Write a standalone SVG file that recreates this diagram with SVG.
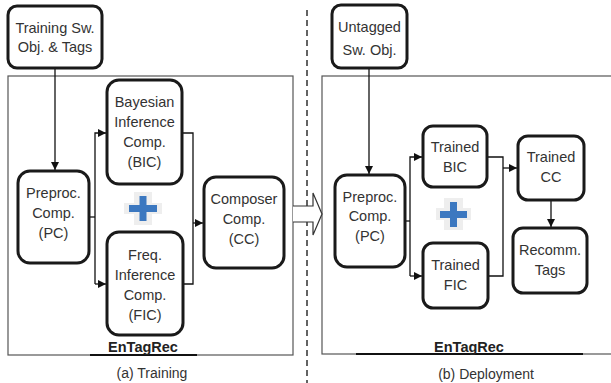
<svg xmlns="http://www.w3.org/2000/svg" width="611" height="383" viewBox="0 0 611 383">
<style>
.node{fill:#fff;stroke:#1a1a1a;stroke-width:3}
.t{font-family:"Liberation Sans",Arial,sans-serif;font-size:14.5px;fill:#333;text-anchor:middle}
.b{font-family:"Liberation Sans",Arial,sans-serif;font-size:14.5px;font-weight:bold;fill:#222;text-anchor:middle}
.c{font-family:"Liberation Sans",Arial,sans-serif;font-size:14px;fill:#333;text-anchor:middle}
.ln{fill:none;stroke:#111;stroke-width:1.3}
.panel{fill:#fff;stroke:#555;stroke-width:1.2}
</style>
<defs>
<marker id="ah" viewBox="0 0 10 10" refX="10" refY="5" markerWidth="8" markerHeight="8" markerUnits="userSpaceOnUse" orient="auto">
<path d="M0,0 L10,5 L0,10 z" fill="#111"/>
</marker>
</defs>
<rect width="611" height="383" fill="#fff"/>

<g id="panels">
<rect class="panel" x="8" y="76" width="285" height="279"/>
<line x1="90" y1="355" x2="197" y2="355" stroke="#111" stroke-width="2.2"/>
<text class="b" x="143" y="352">EnTagRec</text>
<text class="c" x="152" y="378">(a) Training</text>
<rect class="panel" x="322" y="76" width="300" height="278"/>
<line x1="356" y1="354" x2="583" y2="354" stroke="#111" stroke-width="2.2"/>
<text class="b" x="469" y="352">EnTagRec</text>
<text class="c" x="486" y="379">(b) Deployment</text>
<line x1="307" y1="10" x2="307" y2="383" stroke="#222" stroke-width="1.4" stroke-dasharray="6,4"/>
</g>

<g id="connectors">
<line class="ln" x1="55" y1="69" x2="55" y2="170" marker-end="url(#ah)"/>
<polyline class="ln" points="89,217 95,217"/>
<polyline class="ln" points="95,284 95,133 106,133" marker-end="url(#ah)"/>
<line class="ln" x1="95" y1="284" x2="106" y2="284" marker-end="url(#ah)"/>
<polyline class="ln" points="182,133 193,133 193,284 183,284"/>
<line class="ln" x1="193" y1="223" x2="203" y2="223" marker-end="url(#ah)"/>

<path d="M293,206 L313,206 L313,193 L322,214 L313,235 L313,222 L293,222" fill="#fff" stroke="#333" stroke-width="1.2"/>

<line class="ln" x1="369" y1="68" x2="369" y2="174" marker-end="url(#ah)"/>
<line class="ln" x1="405" y1="221" x2="410" y2="221"/>
<polyline class="ln" points="410,276 410,157 422,157" marker-end="url(#ah)"/>
<line class="ln" x1="410" y1="276" x2="422" y2="276" marker-end="url(#ah)"/>
<polyline class="ln" points="487,157 503,157 503,276 488,276"/>
<line class="ln" x1="503" y1="168" x2="517" y2="168" marker-end="url(#ah)"/>
<line class="ln" x1="551" y1="200" x2="551" y2="227" marker-end="url(#ah)"/>
</g>

<g id="plus-a">
<path d="M134,192 h18 v11 h10 v11 h-10 v11 h-18 v-11 h-10 v-11 h10 z" fill="#eeeeee"/>
<rect x="129" y="205" width="28" height="7" fill="#3c78c0"/>
<rect x="139.5" y="196" width="7" height="25" fill="#3c78c0"/>
</g>
<g id="plus-b">
<path d="M444,198 h19 v10 h8 v12 h-8 v10 h-19 v-10 h-8 v-12 h8 z" fill="#eeeeee"/>
<rect x="440" y="211" width="27" height="7" fill="#3c78c0"/>
<rect x="450" y="202" width="7" height="25" fill="#3c78c0"/>
</g>

<g id="training-input">
<rect class="node" x="8" y="6" width="94" height="62" rx="9"/>
<text class="t" x="55" y="33">Training Sw.</text>
<text class="t" x="55" y="52">Obj. &amp; Tags</text>
</g>
<g id="bic">
<rect class="node" x="107" y="80" width="75" height="104" rx="12"/>
<text class="t" x="144.5" y="107">Bayesian</text>
<text class="t" x="144.5" y="127">Inference</text>
<text class="t" x="144.5" y="147">Comp.</text>
<text class="t" x="144.5" y="167">(BIC)</text>
</g>
<g id="pc-a">
<rect class="node" x="18" y="171" width="71" height="92" rx="12"/>
<text class="t" x="53.5" y="198">Preproc.</text>
<text class="t" x="53.5" y="218">Comp.</text>
<text class="t" x="53.5" y="238">(PC)</text>
</g>
<g id="fic">
<rect class="node" x="107" y="232" width="76" height="103" rx="12"/>
<text class="t" x="145" y="260">Freq.</text>
<text class="t" x="145" y="280">Inference</text>
<text class="t" x="145" y="300">Comp.</text>
<text class="t" x="145" y="320">(FIC)</text>
</g>
<g id="cc-a">
<rect class="node" x="204" y="177" width="80" height="91" rx="12"/>
<text class="t" x="244" y="204">Composer</text>
<text class="t" x="244" y="224">Comp.</text>
<text class="t" x="244" y="244">(CC)</text>
</g>

<g id="untagged-input">
<rect class="node" x="332" y="5" width="75" height="63" rx="9"/>
<text class="t" x="369.5" y="32">Untagged</text>
<text class="t" x="369.5" y="55">Sw. Obj.</text>
</g>
<g id="pc-b">
<rect class="node" x="335" y="175" width="70" height="92" rx="12"/>
<text class="t" x="370" y="202">Preproc.</text>
<text class="t" x="370" y="221">Comp.</text>
<text class="t" x="370" y="241">(PC)</text>
</g>
<g id="trained-bic">
<rect class="node" x="423" y="126" width="64" height="61" rx="10"/>
<text class="t" x="455" y="152">Trained</text>
<text class="t" x="455" y="172">BIC</text>
</g>
<g id="trained-fic">
<rect class="node" x="423" y="243" width="65" height="65" rx="10"/>
<text class="t" x="455.5" y="270">Trained</text>
<text class="t" x="455.5" y="290">FIC</text>
</g>
<g id="trained-cc">
<rect class="node" x="518" y="136" width="66" height="64" rx="10"/>
<text class="t" x="551" y="162">Trained</text>
<text class="t" x="551" y="182">CC</text>
</g>
<g id="recomm-tags">
<rect class="node" x="513" y="228" width="74" height="65" rx="10"/>
<text class="t" x="550" y="255">Recomm.</text>
<text class="t" x="550" y="275">Tags</text>
</g>
</svg>
